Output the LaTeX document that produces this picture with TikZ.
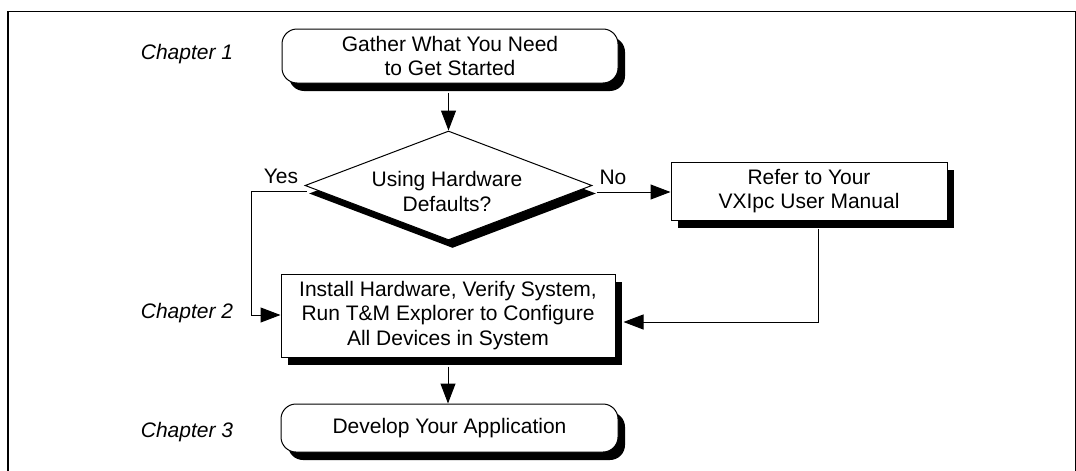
\documentclass[tikz,border=0pt]{standalone}
\usepackage{fontspec}
\setmainfont{Liberation Sans}
\usetikzlibrary{shapes.geometric,shadows,arrows.meta}
\tikzset{
  base/.style={draw=black, line width=1pt, fill=white, align=center, inner sep=0pt,
    font=\fontsize{21}{24.5}\selectfont},
  shad/.style={drop shadow={shadow xshift=7pt, shadow yshift=-8pt, fill=black, opacity=1}},
  termbox/.style={base, shad, rectangle, rounded corners=15pt},
  procbox/.style={base, shad, rectangle},
  decbox/.style={draw=black, line width=1pt, fill=white, shape=diamond, inner sep=0pt,
    drop shadow={shadow xshift=4pt, shadow yshift=-8pt, fill=black, opacity=1}},
  chap/.style={font=\fontsize{21}{24.5}\selectfont\itshape},
  lbl/.style={font=\fontsize{21}{24.5}\selectfont},
  conn/.style={line width=1pt, -{Triangle[length=20pt,width=15pt]}},
  frame/.style={line width=1.5pt}
}
\begin{document}
\begin{tikzpicture}[x=1pt,y=-1pt]
\useasboundingbox (0,0) rectangle (1076,471);
% frame
\coordinate (fbl) at (8,471);
\coordinate (ftl) at (8,11.5);
\coordinate (ftr) at (1075.5,11.5);
\coordinate (fbr) at (1075.5,471);
\draw[frame] (fbl) -- (ftl) -- (ftr) -- (fbr);
% chapter labels
\node[chap] (ch1) at (187,54) {Chapter 1};
\node[chap] (ch2) at (187,313) {Chapter 2};
\node[chap] (ch3) at (187,432) {Chapter 3};
% nodes
\node[termbox, minimum width=336pt, minimum height=54pt] (t1) at (450,56)
  {Gather What You Need\\to Get Started};
\node[decbox, minimum width=287pt, minimum height=109pt] (d) at (448.5,185.5) {};
\node[lbl, align=center] (dt) at (447,191.5) {Using Hardware\\Defaults?};
\node[procbox, minimum width=276pt, minimum height=58pt] (r) at (809,191)
  {Refer to Your\\VXIpc User Manual};
\node[procbox, minimum width=334pt, minimum height=83pt] (i) at (448,315.5)
  {Install Hardware, Verify System,\\Run T\&M Explorer to Configure\\All Devices in System};
\node[termbox, minimum width=337pt, minimum height=48pt] (t2) at (449.5,428)
  {Develop Your Application};
% labels
\node[lbl] (yes) at (281,176) {Yes};
\node[lbl] (no) at (613,177) {No};
% connectors
\coordinate (dl) at ([xshift=2pt,yshift=-5.5pt]d.west);
\coordinate (dr) at ([xshift=4pt,yshift=-6.5pt]d.east);
\coordinate (ybend) at (251,315);
\coordinate (rb) at ([xshift=9pt,yshift=-8pt]r.south);
\coordinate (rin) at ([xshift=8pt]i.east |- 0,322);
\coordinate (rbend) at (rb |- rin);
\draw[conn] ([yshift=-9pt]t1.south -| d.north) -- (d.north);
\draw[conn] (dr) -- (dr -| r.west);
\draw[conn] (dl) -| (ybend) -- (ybend -| i.west);
\draw[conn] (rb) -- (rbend) -- (rin);
\draw[conn] ([yshift=-9pt]i.south) -- (i.south |- t2.north);
\end{tikzpicture}
\end{document}
